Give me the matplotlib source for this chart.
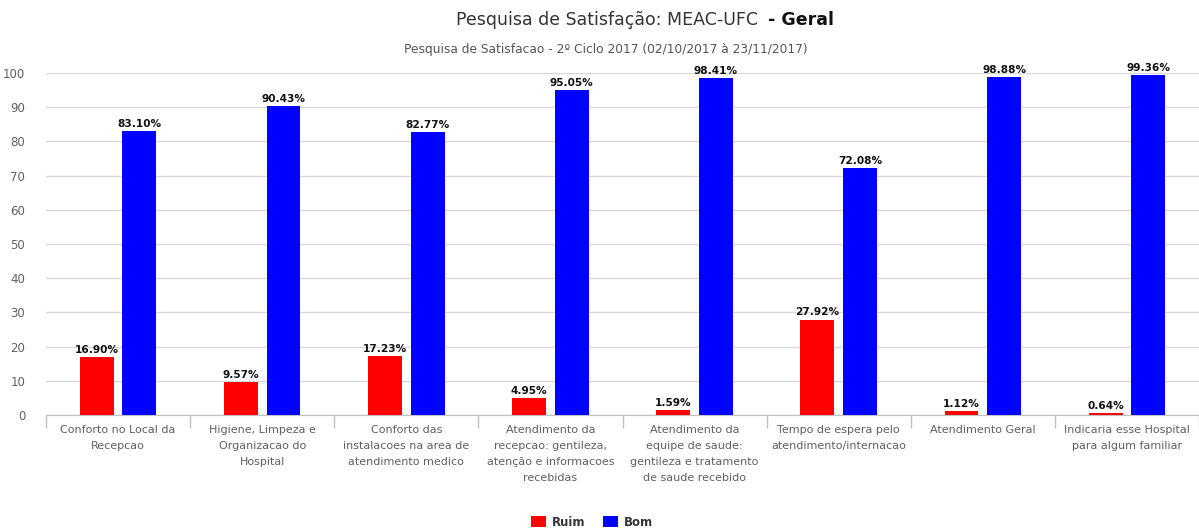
import matplotlib
matplotlib.use("Agg")
import matplotlib.pyplot as plt
import numpy as np

categories = [
    "Conforto no Local da\nRecepcao",
    "Higiene, Limpeza e\nOrganizacao do\nHospital",
    "Conforto das\ninstalacoes na area de\natendimento medico",
    "Atendimento da\nrecepcao: gentileza,\natenção e informacoes\nrecebidas",
    "Atendimento da\nequipe de saude:\ngentileza e tratamento\nde saude recebido",
    "Tempo de espera pelo\natendimento/internacao",
    "Atendimento Geral",
    "Indicaria esse Hospital\npara algum familiar",
]
ruim = [16.90, 9.57, 17.23, 4.95, 1.59, 27.92, 1.12, 0.64]
bom = [83.10, 90.43, 82.77, 95.05, 98.41, 72.08, 98.88, 99.36]
series_names = ["Ruim", "Bom"]
yticks = [0, 10, 20, 30, 40, 50, 60, 70, 80, 90, 100]

plt.rcParams['font.family'] = ['DejaVu Sans']

W, H = 1199, 531
fig = plt.figure(figsize=(W / 100, H / 100), dpi=100)
ax = fig.add_axes([46 / W, 1 - 415 / H, (1199 - 46) / W, (415 - 73) / H])

x = np.arange(len(categories))
off = 0.148
bw = 0.235
b1 = ax.bar(x - off, ruim, bw, color="#ff0000", zorder=3, label=series_names[0])
b2 = ax.bar(x + off, bom, bw, color="#0000ff", zorder=3, label=series_names[1])

for bars, vals in ((b1, ruim), (b2, bom)):
    for rect, v in zip(bars, vals):
        ax.text(rect.get_x() + rect.get_width() / 2, v + 0.6, f"{v:.2f}%",
                ha="center", va="bottom", fontsize=7.6, fontweight="bold",
                color="#111111", zorder=4)

ax.set_xlim(-0.5, len(categories) - 0.5)
ax.set_ylim(0, 100)
ax.set_yticks(yticks)
ax.yaxis.grid(True, color="#d8d8d8", linewidth=1, zorder=0)
ax.tick_params(axis="y", length=0, labelsize=8.5, labelcolor="#606060", pad=15)

ax.set_xticks(x)
ax.set_xticklabels(categories, fontsize=8, color="#606060", linespacing=1.75, va="top")
ax.tick_params(axis="x", which="major", length=0, pad=7)
ax.set_xticks(np.arange(-0.5, len(categories), 1.0), minor=True)
ax.tick_params(axis="x", which="minor", length=9, color="#c0c0c0", width=1)

for s in ("top", "right", "left"):
    ax.spines[s].set_visible(False)
ax.spines["bottom"].set_color("#c0c0c0")

fig.text(758 / W, 1 - 20 / H, "Pesquisa de Satisfação: MEAC-UFC", ha="right", va="center",
         fontsize=12.5, color="#333333")
fig.text(762 / W, 1 - 20 / H, " - Geral", ha="left", va="center",
         fontsize=12.5, color="#111111", fontweight="bold")
fig.text(606 / W, 1 - 50 / H,
         "Pesquisa de Satisfacao - 2º Ciclo 2017 (02/10/2017 à 23/11/2017)",
         ha="center", va="center", fontsize=8.8, color="#555555")

leg = fig.legend(handles=[b1, b2], labels=series_names, loc="center",
                 bbox_to_anchor=(592 / W, 1 - 522 / H), ncol=2, frameon=False,
                 prop={"size": 8.5, "weight": "bold"}, handlelength=1.3,
                 handleheight=1.0, columnspacing=1.5, handletextpad=0.5)
for t in leg.get_texts():
    t.set_color("#333333")

fig.savefig("out.png", dpi=100)
